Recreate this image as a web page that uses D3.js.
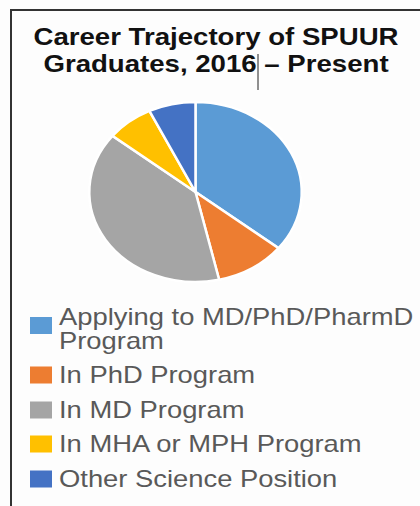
<!DOCTYPE html>
<html>
<head>
<meta charset="utf-8">
<script src="https://cdn.jsdelivr.net/npm/d3@7"></script>
<style>
  body { margin: 0; background: #fdfdfd; }
  svg { display: block; }
  text { font-family: "Liberation Sans", Arial, sans-serif; }
</style>
</head>
<body>
<div id="chart"></div>
<script>
// chart data
var titleLines = ["Career Trajectory of SPUUR", "Graduates, 2016 \u2013 Present"];
var categories = [
  ["Applying to MD/PhD/PharmD", "Program"],
  ["In PhD Program"],
  ["In MD Program"],
  ["In MHA or MPH Program"],
  ["Other Science Position"]
];
var counts = [10, 3, 11, 2, 2];
var colors = ["#5b9bd5", "#ed7d31", "#a5a5a5", "#ffc000", "#4472c4"];

var width = 420, height = 506;
var stretch = 1.18; // picture is squeezed vertically

var svg = d3.select("#chart")
  .append("svg")
  .attr("width", width)
  .attr("height", height);

svg.append("rect")
  .attr("width", width)
  .attr("height", height)
  .attr("fill", "#fdfdfd");

// frame (only left and top edges are visible)
svg.append("path")
  .attr("d", "M11,506 L11,10 L420,10")
  .attr("fill", "none")
  .attr("stroke", "#333")
  .attr("stroke-width", 2);

// title
svg.selectAll(".title")
  .data(titleLines)
  .enter()
  .append("text")
  .attr("class", "title")
  .attr("transform", (d, i) => `translate(216, ${45 + i * 27}) scale(${stretch}, 1)`)
  .attr("text-anchor", "middle")
  .attr("font-size", "23.4px")
  .attr("font-weight", "bold")
  .attr("fill", "#111")
  .text(d => d);

// stray text cursor in the original, right after "2016"
svg.append("line")
  .attr("x1", 258).attr("x2", 258)
  .attr("y1", 54).attr("y2", 90)
  .attr("stroke", "#222")
  .attr("stroke-width", 1);

// pie
var ry = 90;
var pie = d3.pie().sort(null);
var arc = d3.arc().innerRadius(0).outerRadius(ry);

var pieGroup = svg.append("g")
  .attr("transform", `translate(195.5, 192) scale(${stretch}, 1)`);

pieGroup.selectAll("path")
  .data(pie(counts))
  .enter()
  .append("path")
  .attr("d", arc)
  .attr("fill", (d, i) => colors[i])
  .attr("stroke", "#fff")
  .attr("stroke-width", 2.5)
  .attr("vector-effect", "non-scaling-stroke");

// legend
var baselines = [325, 383, 418, 452, 487];
var legend = svg.selectAll(".legend")
  .data(categories)
  .enter()
  .append("g")
  .attr("class", "legend");

legend.append("rect")
  .attr("x", 30)
  .attr("y", (d, i) => baselines[i] - 16.5 + (d.length - 1) * 8.5)
  .attr("width", 22)
  .attr("height", 17)
  .attr("fill", (d, i) => colors[i]);

legend.each(function(lines, i) {
  var g = d3.select(this);
  lines.forEach(function(line, j) {
    g.append("text")
      .attr("transform", `translate(59, ${baselines[i] + j * 24}) scale(${stretch}, 1)`)
      .attr("font-size", "23.2px")
      .attr("fill", "#595959")
      .text(line);
  });
});
</script>
</body>
</html>
